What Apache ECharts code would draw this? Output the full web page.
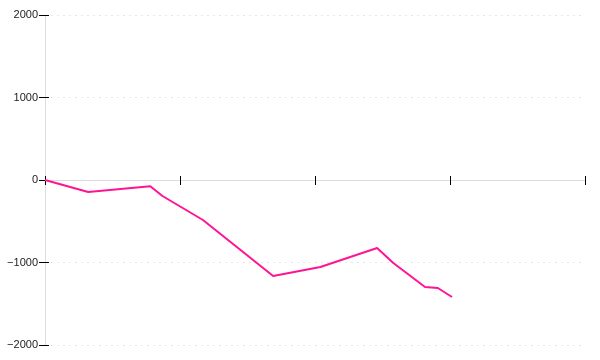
<!DOCTYPE html>
<html>
<head>
<meta charset="utf-8">
<script src="https://cdn.jsdelivr.net/npm/echarts@6/dist/echarts.min.js"></script>
<style>html,body{margin:0;padding:0;background:#fff}#c{width:600px;height:360px}</style>
</head>
<body>
<div id="c"></div>
<script>
const xValues = [0, 0.32, 0.78, 0.87, 1.17, 1.69, 2.04, 2.46, 2.58, 2.815, 2.91, 3.015];
const yValues = [0, -145, -75, -194, -485, -1164, -1055, -824, -1006, -1297, -1309, -1418];
const yTicks = { min: -2000, max: 2000, interval: 1000 };
const xTicks = { min: 0, max: 4, interval: 1 };

const chart = echarts.init(document.getElementById('c'), null, { renderer: 'canvas' });
const fmt = v => String(v).replace('-', '\u2212');
chart.setOption({
  animation: false,
  grid: { left: 45, right: 15, top: 15, bottom: 15, containLabel: false },
  xAxis: [
    {
      type: 'value', min: xTicks.min, max: xTicks.max, interval: xTicks.interval,
      position: 'bottom',
      axisLine: { show: true, onZero: true, lineStyle: { color: '#dcdcdc', width: 1 } },
      axisTick: { show: true, inside: false, length: 5, lineStyle: { color: '#000', width: 1 } },
      axisLabel: { show: false },
      splitLine: { show: false }
    },
    {
      type: 'value', min: xTicks.min, max: xTicks.max, interval: xTicks.interval,
      position: 'bottom',
      axisLine: { show: false, onZero: true },
      axisTick: { show: true, inside: true, length: 4, lineStyle: { color: '#000', width: 1 } },
      axisLabel: { show: false },
      splitLine: { show: false }
    }
  ],
  yAxis: [
    {
      type: 'value', min: yTicks.min, max: yTicks.max, interval: yTicks.interval,
      position: 'left',
      axisLine: { show: false },
      axisTick: { show: true, inside: false, length: 6, lineStyle: { color: '#000', width: 1 } },
      axisLabel: { show: true, margin: 7, color: '#222', fontSize: 11, fontFamily: 'Liberation Sans', formatter: fmt },
      splitLine: { show: true, lineStyle: { color: '#e6e6e6', width: 1, type: [2, 4] } }
    },
    {
      type: 'value', min: yTicks.min, max: yTicks.max, interval: yTicks.interval,
      position: 'left',
      axisLine: { show: true, onZero: false, lineStyle: { color: '#dcdcdc', width: 1 } },
      axisTick: { show: true, inside: true, length: 4, lineStyle: { color: '#000', width: 1 } },
      axisLabel: { show: false },
      splitLine: { show: false }
    }
  ],
  series: [{
    type: 'line',
    data: xValues.map((x, i) => [x, yValues[i]]),
    showSymbol: false,
    symbol: 'none',
    lineStyle: { color: '#ff1493', width: 2 },
    itemStyle: { color: '#ff1493' }
  }]
});
</script>
</body>
</html>
